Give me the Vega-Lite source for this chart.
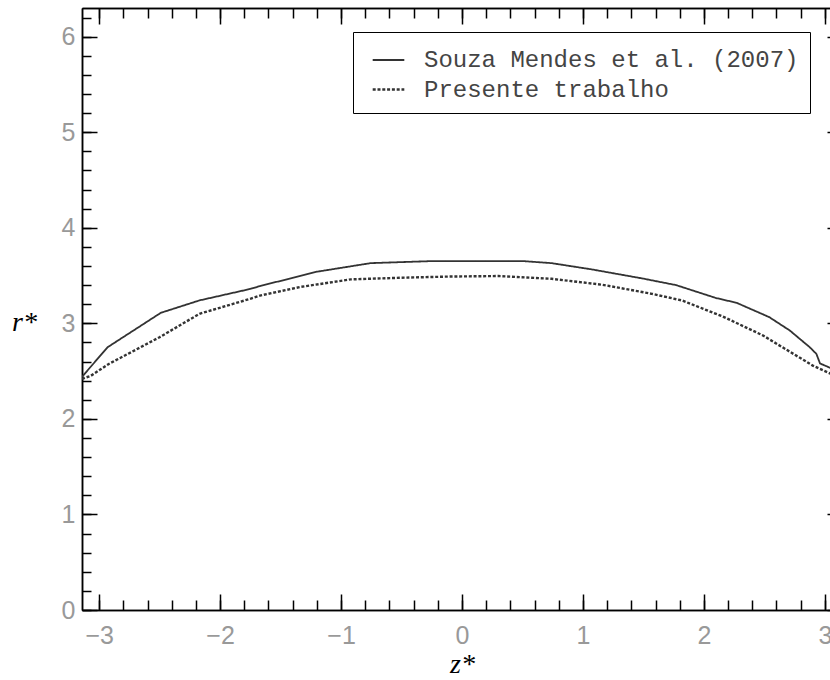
{
  "$schema": "https://vega.github.io/schema/vega-lite/v6.json",
  "autosize": {"type": "none"},
  "padding": {"left": 82, "top": 8, "right": 0, "bottom": 70},
  "width": 760,
  "height": 602,
  "background": "white",
  "config": {
    "view": {"stroke": null},
    "axis": {"grid": false, "domainColor": "black", "domainWidth": 1.5, "tickColor": "black", "tickWidth": 1.5,
      "labelFont": "Liberation Sans", "labelFontSize": 25, "labelColor": "#999999",
      "titleFont": "Liberation Serif", "titleFontStyle": "italic", "titleFontWeight": "normal", "titleFontSize": 28, "titleColor": "black"}
  },
  "data": {"values": [
    {"series": "Souza Mendes et al. (2007)", "z": -3.1416, "r": 2.44},
    {"series": "Souza Mendes et al. (2007)", "z": -2.93, "r": 2.75},
    {"series": "Souza Mendes et al. (2007)", "z": -2.49, "r": 3.11},
    {"series": "Souza Mendes et al. (2007)", "z": -2.17, "r": 3.24},
    {"series": "Souza Mendes et al. (2007)", "z": -1.75, "r": 3.36},
    {"series": "Souza Mendes et al. (2007)", "z": -1.67, "r": 3.39},
    {"series": "Souza Mendes et al. (2007)", "z": -1.2, "r": 3.54},
    {"series": "Souza Mendes et al. (2007)", "z": -0.755, "r": 3.63},
    {"series": "Souza Mendes et al. (2007)", "z": -0.28, "r": 3.65},
    {"series": "Souza Mendes et al. (2007)", "z": 0.52, "r": 3.65},
    {"series": "Souza Mendes et al. (2007)", "z": 0.74, "r": 3.63},
    {"series": "Souza Mendes et al. (2007)", "z": 1.07, "r": 3.565},
    {"series": "Souza Mendes et al. (2007)", "z": 1.49, "r": 3.47},
    {"series": "Souza Mendes et al. (2007)", "z": 1.77, "r": 3.4},
    {"series": "Souza Mendes et al. (2007)", "z": 2.1, "r": 3.265},
    {"series": "Souza Mendes et al. (2007)", "z": 2.27, "r": 3.215},
    {"series": "Souza Mendes et al. (2007)", "z": 2.54, "r": 3.065},
    {"series": "Souza Mendes et al. (2007)", "z": 2.71, "r": 2.925},
    {"series": "Souza Mendes et al. (2007)", "z": 2.875, "r": 2.75},
    {"series": "Souza Mendes et al. (2007)", "z": 2.93, "r": 2.68},
    {"series": "Souza Mendes et al. (2007)", "z": 2.96, "r": 2.58},
    {"series": "Souza Mendes et al. (2007)", "z": 3.07, "r": 2.52},
    {"series": "Souza Mendes et al. (2007)", "z": 3.1416, "r": 2.49},
    {"series": "Presente trabalho", "z": -3.1416, "r": 2.42},
    {"series": "Presente trabalho", "z": -3.07, "r": 2.45},
    {"series": "Presente trabalho", "z": -2.92, "r": 2.575},
    {"series": "Presente trabalho", "z": -2.5, "r": 2.855},
    {"series": "Presente trabalho", "z": -2.17, "r": 3.1},
    {"series": "Presente trabalho", "z": -1.75, "r": 3.257},
    {"series": "Presente trabalho", "z": -1.67, "r": 3.29},
    {"series": "Presente trabalho", "z": -1.34, "r": 3.38},
    {"series": "Presente trabalho", "z": -0.92, "r": 3.46},
    {"series": "Presente trabalho", "z": -0.51, "r": 3.477},
    {"series": "Presente trabalho", "z": -0.09, "r": 3.49},
    {"series": "Presente trabalho", "z": 0.3, "r": 3.495},
    {"series": "Presente trabalho", "z": 0.74, "r": 3.466},
    {"series": "Presente trabalho", "z": 1.16, "r": 3.404},
    {"series": "Presente trabalho", "z": 1.57, "r": 3.309},
    {"series": "Presente trabalho", "z": 1.82, "r": 3.239},
    {"series": "Presente trabalho", "z": 2.15, "r": 3.075},
    {"series": "Presente trabalho", "z": 2.49, "r": 2.872},
    {"series": "Presente trabalho", "z": 2.74, "r": 2.68},
    {"series": "Presente trabalho", "z": 2.9, "r": 2.558},
    {"series": "Presente trabalho", "z": 3.07, "r": 2.46},
    {"series": "Presente trabalho", "z": 3.1416, "r": 2.43}
  ]},
  "layer": [
    {
      "mark": {"type": "line", "clip": true, "color": "#333333"},
      "encoding": {
        "x": {"field": "z", "type": "quantitative", "scale": {"domain": [-3.1416, 3.1416], "nice": false, "zero": false},
          "axis": {"orient": "bottom", "values": [-3, -2, -1, 0, 1, 2, 3], "tickSize": -16, "labelPadding": 29, "labelFlush": false, "title": "z*", "titleY": 62, "titleBaseline": "alphabetic"}},
        "y": {"field": "r", "type": "quantitative", "scale": {"domain": [0, 6.3], "nice": false, "zero": false},
          "axis": {"orient": "left", "values": [0, 1, 2, 3, 4, 5, 6], "tickSize": -15, "labelPadding": 22, "labelFlush": false, "title": "r*", "titleAngle": 0, "titleX": -58, "titleY": 314, "titleAlign": "center", "titleBaseline": "middle"}},
        "strokeDash": {"field": "series", "type": "nominal",
          "scale": {"domain": ["Souza Mendes et al. (2007)", "Presente trabalho"], "range": [[1, 0], [3, 1.8]]},
          "legend": {"orient": "none", "legendX": 271, "legendY": 24, "title": null,
            "strokeColor": "black", "fillColor": "white", "padding": 11,
            "symbolType": "stroke", "symbolSize": 1000, "symbolStrokeWidth": 2, "symbolStrokeColor": "#333333",
            "labelFont": "Liberation Mono", "labelFontSize": 24, "labelColor": "#444444", "labelLimit": 0, "rowPadding": 0, "labelOffset": 18, "symbolOffset": 7}},
        "strokeWidth": {"field": "series", "type": "nominal",
          "scale": {"domain": ["Souza Mendes et al. (2007)", "Presente trabalho"], "range": [1.8, 2.4]}, "legend": null}
      }
    },
    {
      "mark": {"type": "point", "opacity": 0},
      "encoding": {
        "x": {"field": "z", "type": "quantitative", "scale": {"domain": [-3.1416, 3.1416], "nice": false, "zero": false},
          "axis": {"orient": "bottom", "values": [-3, -2.8, -2.6, -2.4, -2.2, -2, -1.8, -1.6, -1.4, -1.2, -1, -0.8, -0.6, -0.4, -0.2, 0, 0.2, 0.4, 0.6, 0.8, 1, 1.2, 1.4, 1.6, 1.8, 2, 2.2, 2.4, 2.6, 2.8, 3], "tickSize": -10, "labels": false, "title": null}},
        "y": {"field": "r", "type": "quantitative", "scale": {"domain": [0, 6.3], "nice": false, "zero": false},
          "axis": {"orient": "left", "values": [0, 0.2, 0.4, 0.6, 0.8, 1, 1.2, 1.4, 1.6, 1.8, 2, 2.2, 2.4, 2.6, 2.8, 3, 3.2, 3.4, 3.6, 3.8, 4, 4.2, 4.4, 4.6, 4.8, 5, 5.2, 5.4, 5.6, 5.8, 6, 6.2], "tickSize": -9, "labels": false, "title": null}}
      }
    },
    {
      "mark": {"type": "point", "opacity": 0},
      "encoding": {
        "x": {"field": "z", "type": "quantitative", "scale": {"domain": [-3.1416, 3.1416], "nice": false, "zero": false},
          "axis": {"orient": "top", "values": [-3, -2, -1, 0, 1, 2, 3], "tickSize": -16, "labels": false, "title": null}},
        "y": {"field": "r", "type": "quantitative", "scale": {"domain": [0, 6.3], "nice": false, "zero": false},
          "axis": {"orient": "right", "values": [0, 1, 2, 3, 4, 5, 6], "tickSize": -15, "labels": false, "title": null}}
      }
    },
    {
      "mark": {"type": "point", "opacity": 0},
      "encoding": {
        "x": {"field": "z", "type": "quantitative", "scale": {"domain": [-3.1416, 3.1416], "nice": false, "zero": false},
          "axis": {"orient": "top", "values": [-3, -2.8, -2.6, -2.4, -2.2, -2, -1.8, -1.6, -1.4, -1.2, -1, -0.8, -0.6, -0.4, -0.2, 0, 0.2, 0.4, 0.6, 0.8, 1, 1.2, 1.4, 1.6, 1.8, 2, 2.2, 2.4, 2.6, 2.8, 3], "tickSize": -10, "labels": false, "title": null}},
        "y": {"field": "r", "type": "quantitative", "scale": {"domain": [0, 6.3], "nice": false, "zero": false},
          "axis": {"orient": "right", "values": [0, 0.2, 0.4, 0.6, 0.8, 1, 1.2, 1.4, 1.6, 1.8, 2, 2.2, 2.4, 2.6, 2.8, 3, 3.2, 3.4, 3.6, 3.8, 4, 4.2, 4.4, 4.6, 4.8, 5, 5.2, 5.4, 5.6, 5.8, 6, 6.2], "tickSize": -9, "labels": false, "title": null}}
      }
    }
  ],
  "resolve": {"axis": {"x": "independent", "y": "independent"}}
}
